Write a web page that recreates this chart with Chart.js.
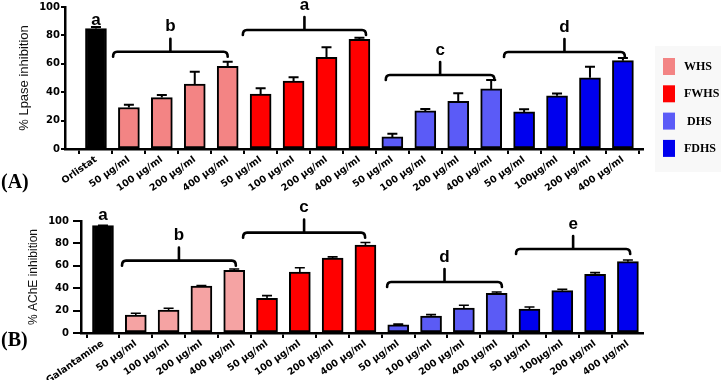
<!DOCTYPE html>
<html><head><meta charset="utf-8">
<script src="https://cdn.jsdelivr.net/npm/chart.js@4.4.1/dist/chart.umd.min.js"></script>
<style>
html,body{margin:0;padding:0;background:#fff;width:721px;height:380px;overflow:hidden;position:relative}
canvas{position:absolute;left:0}
#cA{top:0;z-index:1}
#cB{top:190px;z-index:2}
.pl{position:absolute;z-index:3;font-family:'Liberation Serif','Times New Roman',serif;font-weight:bold;font-size:20px;line-height:20px;color:#000}
</style></head><body>
<canvas id="cA" width="721" height="200"></canvas>
<canvas id="cB" width="721" height="190"></canvas>
<div class="pl" style="left:1px;top:171px">(A)</div>
<div class="pl" style="left:1px;top:329px">(B)</div>
<script>
// ---------- data ----------
const groupNames = ['WHS', 'FWHS', 'DHS', 'FDHS'];

const labelsA = ['Orlistat',
  '50 μg/ml', '100 μg/ml', '200 μg/ml', '400 μg/ml',
  '50 μg/ml', '100 μg/ml', '200 μg/ml', '400 μg/ml',
  '50 μg/ml', '100 μg/ml', '200 μg/ml', '400 μg/ml',
  '50 μg/ml', '100μg/ml', '200 μg/ml', '400 μg/ml'];
const labelsB = ['Galantamine',
  '50 μg/ml', '100 μg/ml', '200 μg/ml', '400 μg/ml',
  '50 μg/ml', '100 μg/ml', '200 μg/ml', '400 μg/ml',
  '50 μg/ml', '100 μg/ml', '200 μg/ml', '400 μg/ml',
  '50 μg/ml', '100μg/ml', '200 μg/ml', '400 μg/ml'];

// (A) % lipase inhibition
const lipaseOrlistat = [84.8];
const lipaseOrlistatErr = [1.2];
const lipaseWHS = [29.2, 36.2, 45.8, 58.2];
const lipaseWHSErr = [2.0, 1.9, 8.6, 3.3];
const lipaseFWHS = [38.7, 47.9, 64.6, 77.2];
const lipaseFWHSErr = [4.0, 2.6, 7.0, 1.2];
const lipaseDHS = [8.5, 26.8, 33.6, 42.3];
const lipaseDHSErr = [2.3, 1.4, 5.6, 6.3];
const lipaseFDHS = [26.1, 37.5, 50.2, 62.2];
const lipaseFDHSErr = [1.9, 1.5, 7.8, 1.9];

// (B) % AChE inhibition
const acheGalantamine = [95.8];
const acheGalantamineErr = [0.4];
const acheWHS = [16.1, 20.5, 42.0, 56.0];
const acheWHSErr = [1.6, 1.6, 0.4, 1.2];
const acheFWHS = [31.0, 54.5, 67.0, 78.6];
const acheFWHSErr = [2.4, 3.8, 1.0, 2.2];
const acheDHS = [7.4, 15.2, 22.3, 35.4];
const acheDHSErr = [0.5, 1.2, 2.5, 1.2];
const acheFDHS = [21.4, 37.8, 52.4, 63.7];
const acheFDHSErr = [1.8, 1.3, 1.5, 1.5];

const yTicks = [0, 20, 40, 60, 80, 100];

// significance letters: [from bar, to bar, level (% inhibition), letter]
const bracketsA = [[0.52, 4.0, 68.5, 'b'], [4.46, 8.2, 83.8, 'a'], [8.8, 12.1, 52.1, 'c'], [12.39, 16.06, 68.3, 'd']];
const controlLetterA = [0, 90.8, 'a'];
const bracketsB = [[0.58, 4.05, 64.6, 'b'], [4.27, 7.99, 89.6, 'c'], [8.66, 12.16, 45.5, 'd'], [12.59, 16.07, 75.0, 'e']];
const controlLetterB = [0, 105.4, 'a'];

// ---------- styles ----------
const colorsA = ['#000000', '#F38484', '#FF0000', '#5B5BF7', '#0000EE'];
const colorsB = ['#000000', '#F5A3A3', '#FF0000', '#5B5BF5', '#0000EE'];

Chart.defaults.font.family = "'Liberation Sans', Arial, sans-serif";
Chart.defaults.color = '#000';

function buildDatasets(controlName, control, controlErr, groups, groupErrs, colors) {
  const ds = [{
    label: controlName,
    data: control.map((v) => ({x: 0, y: v})),
    errors: controlErr,
    backgroundColor: colors[0]
  }];
  groups.forEach((vals, g) => {
    ds.push({
      label: groupNames[g],
      data: vals.map((v, k) => ({x: 1 + 4 * g + k, y: v})),
      errors: groupErrs[g],
      backgroundColor: colors[g + 1]
    });
  });
  return ds;
}

const annotPlugin = {
  id: 'annot',
  afterDatasetsDraw(chart, args, o) {
    const {ctx} = chart;
    const x = chart.scales.x, y = chart.scales.y;
    ctx.save();
    // error bars (upper only)
    ctx.strokeStyle = '#000';
    ctx.lineWidth = o.errWidth;
    chart.data.datasets.forEach((ds) => {
      ds.data.forEach((pt, i) => {
        const px = x.getPixelForValue(pt.x);
        const y0 = y.getPixelForValue(pt.y);
        const y1 = y.getPixelForValue(pt.y + ds.errors[i]);
        ctx.beginPath();
        ctx.moveTo(px, y0);
        ctx.lineTo(px, y1);
        ctx.moveTo(px - 5, y1);
        ctx.lineTo(px + 5, y1);
        ctx.stroke();
      });
    });
    // brackets
    ctx.lineWidth = 2.6;
    ctx.lineCap = 'round';
    ctx.lineJoin = 'round';
    ctx.fillStyle = '#000';
    ctx.font = "bold 17px 'Liberation Sans', Arial, sans-serif";
    ctx.textAlign = 'center';
    ctx.textBaseline = 'middle';
    o.brackets.forEach(([a, b, lvl, letter]) => {
      const x1 = x.getPixelForValue(a), x2 = x.getPixelForValue(b);
      const yl = y.getPixelForValue(lvl);
      const xc = (x1 + x2) / 2;
      ctx.beginPath();
      ctx.moveTo(x1, yl + 5);
      ctx.quadraticCurveTo(x1, yl, x1 + 4, yl);
      ctx.lineTo(x2 - 4, yl);
      ctx.quadraticCurveTo(x2, yl, x2, yl + 5);
      ctx.moveTo(xc, yl);
      ctx.lineTo(xc, yl - 13);
      ctx.stroke();
      ctx.fillText(letter, xc, yl - 25);
    });
    const [ci, cl, ct] = o.control;
    ctx.fillText(ct, x.getPixelForValue(ci), y.getPixelForValue(cl));
    ctx.restore();
  }
};

const legendPlugin = {
  id: 'sideLegend',
  afterDraw(chart, args, o) {
    if (!o.show) return;
    const {ctx} = chart;
    ctx.save();
    ctx.fillStyle = '#f8f8f8';
    ctx.fillRect(655, 46, 66, 126);
    ctx.font = "bold 12px 'Liberation Serif', 'Times New Roman', serif";
    ctx.textBaseline = 'middle';
    ctx.textAlign = 'left';
    chart.data.datasets.slice(1).forEach((ds, i) => {
      const top = 58 + i * 27.3;
      ctx.fillStyle = ds.backgroundColor;
      ctx.fillRect(663, top, 12, 17);
      ctx.fillStyle = '#000';
      ctx.fillText(ds.label, ds.label === 'DHS' ? 687 : 684, top + 9);
    });
    ctx.restore();
  }
};

function makeChart(id, cfg) {
  return new Chart(document.getElementById(id), {
    type: 'bar',
    data: {datasets: cfg.datasets},
    plugins: [annotPlugin, legendPlugin],
    options: {
      responsive: false,
      animation: false,
      layout: {padding: {left: 0, right: 78, top: cfg.top, bottom: 0}},
      datasets: {bar: {grouped: false, barThickness: 21, borderWidth: 2, borderColor: '#000', borderSkipped: false}},
      scales: {
        x: {
          type: 'linear',
          offset: false,
          min: cfg.xmin, max: cfg.xmax,
          afterBuildTicks: (ax) => { ax.ticks = cfg.labels.map((_, i) => ({value: i})); },
          afterFit: (s) => { s.height = cfg.xHeight; s.paddingLeft = 0; s.paddingRight = 0; },
          ticks: {
            autoSkip: false, minRotation: 35, maxRotation: 35, padding: 0,
            callback: (v) => cfg.labels[v],
            font: {family: "'DejaVu Sans', sans-serif", weight: 'bold', size: 9.5}, color: '#000'
          },
          grid: {drawOnChartArea: false, drawTicks: true, tickLength: 5, color: '#000', lineWidth: 2},
          border: {display: true, color: '#000', width: 2.5}
        },
        y: {
          min: 0, max: 100,
          afterBuildTicks: (ax) => { ax.ticks = yTicks.map((v) => ({value: v})); },
          afterFit: (s) => { s.width = cfg.yWidth; s.paddingTop = 0; s.paddingBottom = 0; },
          ticks: {
            padding: cfg.yPad,
            font: {family: "'DejaVu Sans', sans-serif", weight: 'bold', size: 10}, color: '#000'
          },
          grid: {drawOnChartArea: false, drawTicks: true, tickLength: cfg.yTick, color: '#000', lineWidth: 2},
          border: {display: true, color: '#000', width: 2.5},
          title: {display: true, text: cfg.yTitle, color: '#111',
            font: {family: "'Liberation Sans', Arial, sans-serif", size: cfg.titleSize},
            padding: {top: cfg.titlePad, bottom: 0}}
        }
      },
      plugins: {
        legend: {display: false},
        tooltip: {enabled: false},
        annot: {brackets: cfg.brackets, control: cfg.control, errWidth: cfg.errWidth},
        sideLegend: {show: cfg.legend}
      }
    }
  });
}

makeChart('cA', {
  datasets: buildDatasets('Orlistat', lipaseOrlistat, lipaseOrlistatErr,
    [lipaseWHS, lipaseFWHS, lipaseDHS, lipaseFDHS],
    [lipaseWHSErr, lipaseFWHSErr, lipaseDHSErr, lipaseFDHSErr], colorsA),
  labels: labelsA, brackets: bracketsA, control: controlLetterA,
  xmin: -0.94, xmax: 16.61, top: 7, xHeight: 51, yWidth: 65, yPad: 1, yTick: 4,
  yTitle: '% Lpase inhibition', titleSize: 13, titlePad: 17, errWidth: 2, legend: true
});

makeChart('cB', {
  datasets: buildDatasets('Galantamine', acheGalantamine, acheGalantamineErr,
    [acheWHS, acheFWHS, acheDHS, acheFDHS],
    [acheWHSErr, acheFWHSErr, acheDHSErr, acheFDHSErr], colorsB),
  labels: labelsB, brackets: bracketsB, control: controlLetterB,
  xmin: -0.67, xmax: 16.46, top: 31, xHeight: 47, yWidth: 81, yPad: 4, yTick: 8,
  yTitle: '% AChE inhibition', titleSize: 12, titlePad: 26, errWidth: 1.6, legend: false
});
</script>
</body></html>
